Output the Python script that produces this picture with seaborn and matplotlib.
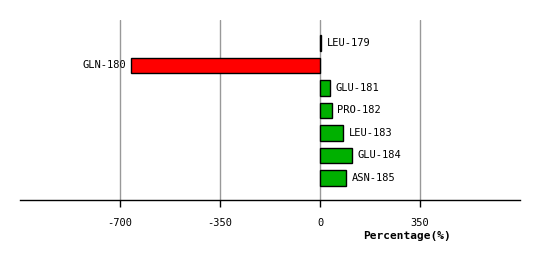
import matplotlib
matplotlib.use("Agg")
import matplotlib.pyplot as plt
import seaborn as sns
import pandas as pd

residues = ["LEU-179", "GLN-180", "GLU-181", "PRO-182", "LEU-183", "GLU-184", "ASN-185"]
values = [3, -660, 35, 41, 80, 112, 91]
ticks = [-700, -350, 0, 350]

colors = ["#ff0000" if v < 0 else "#00b000" for v in values]

sns.set_theme(style="white")
plt.rcParams['font.family'] = ['DejaVu Sans Mono', 'DejaVu Sans']
plt.rcParams['text.color'] = 'black'
plt.rcParams['axes.labelcolor'] = 'black'
plt.rcParams['xtick.color'] = 'black'

fig = plt.figure(figsize=(5.4, 2.6), dpi=100)
ax = fig.add_axes([20/540, 60/260, 500/540, 180/260])

df = pd.DataFrame({"res": residues, "val": values})
sns.barplot(data=df, x="val", y="res", hue="res", palette=colors, legend=False,
            orient="h", width=0.7, saturation=1, edgecolor="black", linewidth=1,
            ax=ax, zorder=3)

for i, v in enumerate(values):
    if v < 0:
        ax.annotate(residues[i], (v, i), xytext=(-4, 0), textcoords="offset points",
                    ha="right", va="center", fontsize=7.5, color="black")
    else:
        ax.annotate(residues[i], (v, i), xytext=(4, 0), textcoords="offset points",
                    ha="left", va="center", fontsize=7.5, color="black")

ax.set_xlim(-1050, 700)
ax.set_ylim(6.98, -1.02)
ax.set_xticks(ticks)
ax.set_xticklabels([str(t) for t in ticks], fontsize=7.5)
ax.set_yticks([])
ax.set_ylabel("")
for t in ticks:
    ax.axvline(t, color="#999999", linewidth=1, zorder=1)
for s in ["top", "right", "left"]:
    ax.spines[s].set_visible(False)
ax.spines["bottom"].set_color("black")
ax.spines["bottom"].set_linewidth(1)
ax.tick_params(axis="x", bottom=True, length=5, width=1, color="black", pad=8)
ax.set_xlabel("Percentage(%)", fontsize=8, fontweight="bold")
ax.xaxis.set_label_coords(387/500, -0.17)

fig.savefig("out.png", dpi=100)
